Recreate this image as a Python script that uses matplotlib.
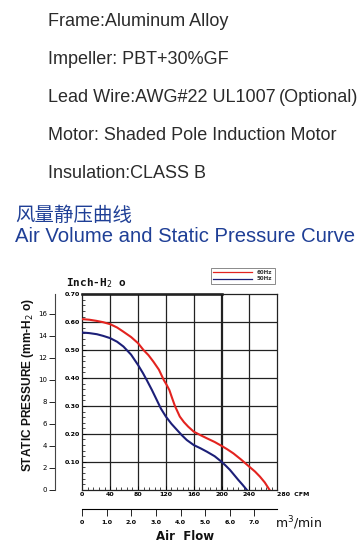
import matplotlib
matplotlib.use("Agg")
import matplotlib.pyplot as plt
from matplotlib.ticker import MultipleLocator

# --- spec text ---
spec_lines = [
    "Frame:Aluminum Alloy",
    "Impeller: PBT+30%GF",
    "Lead Wire:AWG#22 UL1007",
    "Motor: Shaded Pole Induction Motor",
    "Insulation:CLASS B",
]
spec_note = "(Optional)"
title_cn = "风量静压曲线"
title_en = "Air Volume and Static Pressure Curve"

# --- curve data (CFM, inch-H2O) ---
cfm_60 = [0, 10, 20, 30, 40, 50, 59, 70, 80, 88, 95, 102, 110, 117, 121, 125, 129, 133, 140,
          146, 152, 160, 170, 179, 190, 200, 208, 217, 228, 240, 248, 255, 262, 268.7]
p_60 = [0.611, 0.609, 0.605, 0.600, 0.593, 0.581, 0.566, 0.547, 0.525, 0.50, 0.482, 0.459,
        0.43, 0.393, 0.376, 0.357, 0.328, 0.30, 0.262, 0.242, 0.226, 0.208, 0.195, 0.184,
        0.171, 0.157, 0.145, 0.130, 0.108, 0.082, 0.065, 0.047, 0.026, 0.0]
cfm_50 = [0, 10, 21, 30, 40, 50, 59, 70, 80, 87, 92.5, 100, 107, 113, 120, 128, 136, 143,
          150, 160, 170, 179, 190, 200, 206, 212, 218, 224, 230, 236]
p_50 = [0.563, 0.561, 0.557, 0.551, 0.543, 0.530, 0.513, 0.484, 0.447, 0.418, 0.393, 0.357,
        0.321, 0.290, 0.262, 0.236, 0.214, 0.195, 0.178, 0.160, 0.148, 0.136, 0.120, 0.10,
        0.086, 0.071, 0.053, 0.035, 0.018, 0.0]

cfm_ticks = [0, 40, 80, 120, 160, 200, 240, 280]
inch_ticks = [0.10, 0.20, 0.30, 0.40, 0.50, 0.60, 0.70]
mm_ticks = [0, 2, 4, 6, 8, 10, 12, 14, 16]
m3_ticks = [0, 1.0, 2.0, 3.0, 4.0, 5.0, 6.0, 7.0]

RED = "#e3231f"
BLUE = "#1c1f78"
TXT = "#2b2b2b"
TBLUE = "#1f3f96"

W, H = 363, 560
fig = plt.figure(figsize=(W / 100, H / 100), dpi=100)


def px(x, y):
    return x / W, 1 - y / H


# header text
ys = [22, 59, 97, 135, 173]
for s, y in zip(spec_lines, ys):
    fig.text(*px(48, y), s, fontsize=13, family="Liberation Sans",
             color=TXT, va="center", ha="left")
fig.text(*px(279, 97), spec_note, fontsize=13, family="Liberation Sans",
         color=TXT, va="center", ha="left")
fig.text(*px(15, 215), title_cn, fontsize=14, family=["Noto Sans CJK SC"],
         color=TBLUE, va="center", ha="left")
fig.text(*px(15, 237), title_en, fontsize=14.6, family=["Liberation Sans"],
         color=TBLUE, va="center", ha="left")

# main chart
x0, x1 = 82.3, 277.3
y0, y1 = 489.7, 294.3
ax = fig.add_axes([x0 / W, 1 - y0 / H, (x1 - x0) / W, (y0 - y1) / H])
ax.plot(cfm_60, p_60, color=RED, lw=1.5, label="60Hz", zorder=3)
ax.plot(cfm_50, p_50, color=BLUE, lw=1.5, label="50Hz", zorder=3)
ax.set_xlim(0, 280)
ax.set_ylim(0, 0.70)

for c in cfm_ticks[1:-1]:
    ax.axvline(c, color="#222222", lw=1.6 if c == 200 else 0.9, zorder=1)
for v in inch_ticks[:-1]:
    ax.axhline(v, color="#222222", lw=0.9, zorder=1)
ax.plot([0, 200], [0.70, 0.70], color="#111111", lw=1.8, clip_on=False, zorder=2)
for s in ax.spines.values():
    s.set_linewidth(0.9)
    s.set_color("#222222")

ax.set_xticks(cfm_ticks)
ax.set_xticklabels([str(c) for c in cfm_ticks[:-1]] + ["280  CFM"])
ax.set_yticks(inch_ticks)
ax.set_yticklabels([f"{v:.2f}" for v in inch_ticks])
ax.xaxis.set_minor_locator(MultipleLocator(8))
ax.yaxis.set_minor_locator(MultipleLocator(0.02))
ax.tick_params(axis="both", which="major", direction="in", length=3, width=0.6,
               labelsize=4.5, pad=2)
ax.tick_params(axis="both", which="minor", direction="in", length=2, width=0.5)
for lab in ax.get_xticklabels() + ax.get_yticklabels():
    lab.set_fontweight("bold")
ax.get_xticklabels()[-1].set_horizontalalignment("left")
ax.get_xticklabels()[-1].set_x(276)

leg = ax.legend(loc="lower right", bbox_to_anchor=(1.0, 1.04), fontsize=4, frameon=True,
                handlelength=7, borderpad=0.4, labelspacing=0.2, fancybox=False)
leg.get_frame().set_edgecolor("#555555")
leg.get_frame().set_linewidth(0.6)
for t in leg.get_texts():
    t.set_fontweight("bold")
    t.set_color("#333333")
for ln in leg.get_lines():
    ln.set_linewidth(0.9)

# mm-H2O axis on the left
ax2 = ax.twinx()
ax2.set_ylim(0, 0.70 * 25.4)
ax2.yaxis.tick_left()
ax2.spines["left"].set_position(("outward", 20))
ax2.spines["left"].set_linewidth(0.8)
ax2.spines["left"].set_color("#444444")
for side in ["right", "top", "bottom"]:
    ax2.spines[side].set_visible(False)
ax2.set_yticks(mm_ticks)
ax2.tick_params(axis="y", direction="out", length=4.3, width=0.6, labelsize=5, pad=1)

fig.text(*px(28, 385), "STATIC PRESSURE (mm-H$_2$ o)", rotation=90, fontsize=8.6,
         fontweight="bold", family="Liberation Sans",
         va="center", ha="center", color="#111111")
fig.text(*px(66, 283), "Inch-H$_2$ o", fontsize=8, fontweight="bold",
         family="DejaVu Sans Mono", va="center", ha="left", color="#111111")

# m3/min axis below
sec = ax.secondary_xaxis(-0.099, functions=(lambda c: c / 35.31, lambda m: m * 35.31))
sec.set_xticks(m3_ticks)
sec.set_xticklabels([f"{m:.1f}" if m else "0" for m in m3_ticks])
sec.tick_params(direction="out", length=5, width=0.6, labelsize=4.5, pad=3)
for lab in sec.get_xticklabels():
    lab.set_fontweight("bold")
sec.spines["bottom"].set_linewidth(0.8)
fig.text(*px(275, 523), "m$^3$/min", fontsize=9, va="center", ha="left", color="#111111")
fig.text(*px(185, 537), "Air  Flow", fontsize=8.5, fontweight="bold", va="center",
         ha="center", color="#111111")

fig.savefig("out.png", dpi=100)
